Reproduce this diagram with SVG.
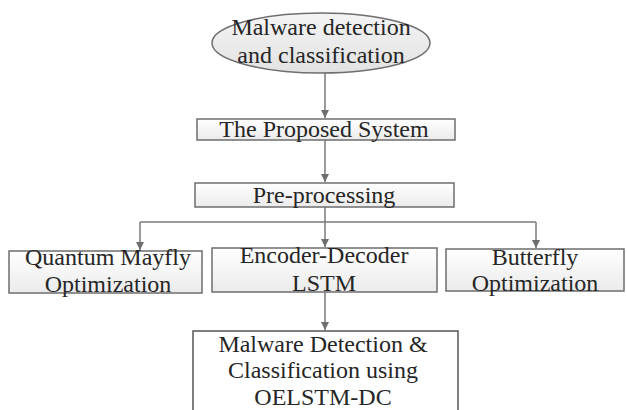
<svg xmlns="http://www.w3.org/2000/svg" width="627" height="410" viewBox="0 0 627 410">
<defs>
<linearGradient id="g" x1="0" y1="0" x2="0" y2="1">
<stop offset="0" stop-color="#ffffff"/>
<stop offset="1" stop-color="#ebebeb"/>
</linearGradient>
<linearGradient id="ge" x1="0" y1="0" x2="0" y2="1">
<stop offset="0" stop-color="#f4f4f4"/>
<stop offset="1" stop-color="#e2e2e2"/>
</linearGradient>
<marker id="ah" viewBox="0 0 10 10" refX="10" refY="5" markerWidth="8" markerHeight="8" markerUnits="userSpaceOnUse" orient="auto">
<path d="M0,0 L10,5 L0,10 z" fill="#6e6e6e"/>
</marker>
</defs>
<style>
.box{fill:url(#g);stroke:#6e6e6e;stroke-width:1.5}
.t{font-family:"Liberation Serif","Times New Roman",serif;font-size:24px;fill:#262626;text-anchor:middle}
.c{fill:none;stroke:#7a7a7a;stroke-width:1.5}
</style>
<rect width="627" height="410" fill="#ffffff"/>
<g id="connectors">
<path class="c" d="M325,73 V118" marker-end="url(#ah)"/>
<path class="c" d="M325,140 V182" marker-end="url(#ah)"/>
<path class="c" d="M325,207 V247" marker-end="url(#ah)"/>
<path class="c" d="M140,222 H536"/>
<path class="c" d="M140,222 V250" marker-end="url(#ah)"/>
<path class="c" d="M536,222 V248" marker-end="url(#ah)"/>
<path class="c" d="M325,292 V330" marker-end="url(#ah)"/>
</g>
<g id="start">
<ellipse cx="321" cy="43" rx="109" ry="30" fill="url(#ge)" stroke="#6e6e6e" stroke-width="1.5"/>
<text class="t" x="321" y="35">Malware detection</text>
<text class="t" x="321" y="63">and classification</text>
</g>
<g id="proposed">
<rect class="box" x="197" y="119" width="258" height="21"/>
<text class="t" x="324" y="137">The Proposed System</text>
</g>
<g id="preprocessing">
<rect class="box" x="195" y="183" width="259" height="24"/>
<text class="t" x="324" y="203">Pre-processing</text>
</g>
<g id="qmo">
<rect class="box" x="9" y="251" width="193" height="42"/>
<text class="t" x="108" y="265">Quantum Mayfly</text>
<text class="t" x="108" y="292">Optimization</text>
</g>
<g id="edlstm">
<rect class="box" x="212" y="248" width="225" height="44"/>
<text class="t" x="324" y="263">Encoder-Decoder</text>
<text class="t" x="324" y="291">LSTM</text>
</g>
<g id="bo">
<rect class="box" x="446" y="249" width="178" height="42"/>
<text class="t" x="535" y="265">Butterfly</text>
<text class="t" x="535" y="291">Optimization</text>
</g>
<g id="result">
<rect x="193" y="331" width="265" height="90" fill="#ffffff" stroke="#555555" stroke-width="1.5"/>
<text class="t" x="323" y="352">Malware Detection &amp;</text>
<text class="t" x="323" y="378">Classification using</text>
<text class="t" x="323" y="405">OELSTM-DC</text>
</g>
</svg>
